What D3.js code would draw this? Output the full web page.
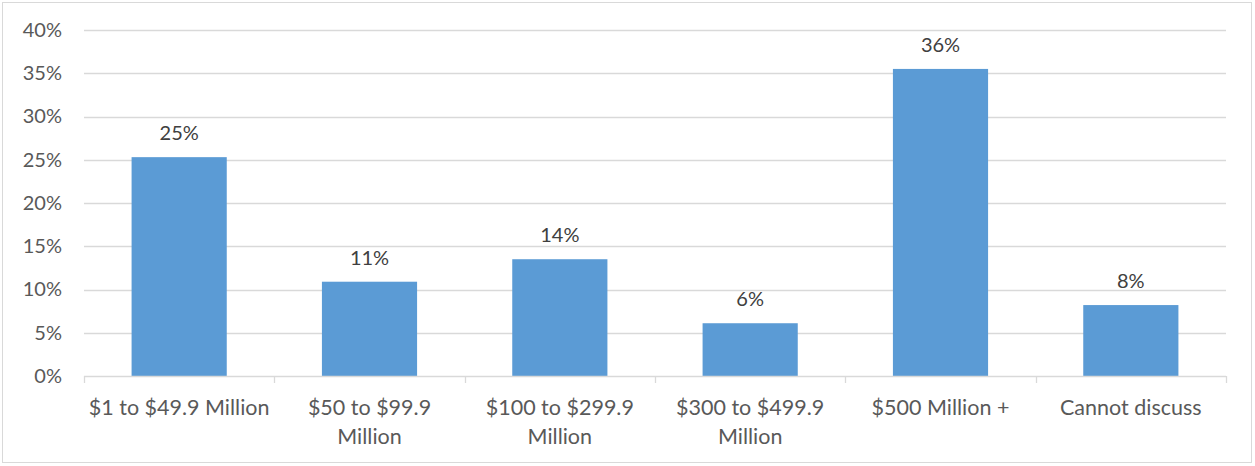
<!DOCTYPE html>
<html><head><meta charset="utf-8">
<script src="https://cdn.jsdelivr.net/npm/d3@7"></script>
<style>body{margin:0;background:#fff}svg{display:block}</style>
</head><body>
<svg id="c" width="1255" height="466"></svg>
<script>
const categories = [["$1 to $49.9 Million"], ["$50 to $99.9", "Million"], ["$100 to $299.9", "Million"], ["$300 to $499.9", "Million"], ["$500 Million +"], ["Cannot discuss"]];
const values = [25.3, 10.9, 13.5, 6.1, 35.5, 8.2];
const labels = ["25%", "11%", "14%", "6%", "36%", "8%"];
const yTicks = [0, 5, 10, 15, 20, 25, 30, 35, 40];

const font = "Lato, 'Open Sans', sans-serif";
const svg = d3.select("#c");
svg.append("rect").attr("x", 2.5).attr("y", 2.5).attr("width", 1249).attr("height", 460)
  .attr("fill", "#fff").attr("stroke", "#d9d9d9");

const x0 = 84, x1 = 1226, yTop = 30, yBot = 376;
const x = d3.scaleBand().domain(d3.range(categories.length)).range([x0, x1]).paddingInner(0.5).paddingOuter(0.25);
const y = d3.scaleLinear().domain([0, 40]).range([yBot, yTop]);

// gridlines
svg.append("g").selectAll("line").data(yTicks.filter(d => d > 0)).join("line")
  .attr("x1", x0).attr("x2", x1).attr("y1", d => Math.round(y(d)) + 0.5).attr("y2", d => Math.round(y(d)) + 0.5)
  .attr("stroke", "#d9d9d9").attr("stroke-width", 1.3);

// y labels
const yAxis = d3.axisLeft(y).tickValues(yTicks).tickFormat(d => d + "%").tickSize(0).tickPadding(0);
const ga = svg.append("g").attr("transform", `translate(62,0)`).call(yAxis);
ga.select(".domain").remove();
ga.selectAll("text").attr("font-family", font).attr("font-size", 20).attr("fill", "#595959");

// bars
svg.append("g").selectAll("rect").data(values).join("rect")
  .attr("x", (d, i) => x(i)).attr("width", x.bandwidth())
  .attr("y", d => y(d)).attr("height", d => yBot - y(d)).attr("fill", "#5b9bd5");

// x axis line and ticks
const step = (x1 - x0) / categories.length;
svg.append("line").attr("x1", x0).attr("x2", x1).attr("y1", yBot + 0.5).attr("y2", yBot + 0.5)
  .attr("stroke", "#d9d9d9").attr("stroke-width", 1.3);
svg.append("g").selectAll("line").data(d3.range(categories.length + 1)).join("line")
  .attr("x1", i => Math.round(x0 + i * step) + 0.5).attr("x2", i => Math.round(x0 + i * step) + 0.5)
  .attr("y1", yBot).attr("y2", yBot + 7).attr("stroke", "#d9d9d9").attr("stroke-width", 1.3);

// x labels
const xl = svg.append("g").selectAll("text").data(categories).join("text")
  .attr("x", (d, i) => x(i) + x.bandwidth() / 2).attr("y", 415)
  .attr("text-anchor", "middle").attr("font-family", font).attr("font-size", 21.5).attr("fill", "#595959");
xl.selectAll("tspan").data(d => d).join("tspan")
  .attr("x", function () { return this.parentNode.getAttribute("x"); })
  .attr("dy", (d, i) => i === 0 ? 0 : 29).text(d => d);

// data labels
svg.append("g").selectAll("text").data(values).join("text")
  .attr("x", (d, i) => x(i) + x.bandwidth() / 2).attr("y", d => y(d) - 17)
  .attr("text-anchor", "middle").attr("font-family", font).attr("font-size", 20).attr("fill", "#404040")
  .text((d, i) => labels[i]);
</script>
</body></html>
